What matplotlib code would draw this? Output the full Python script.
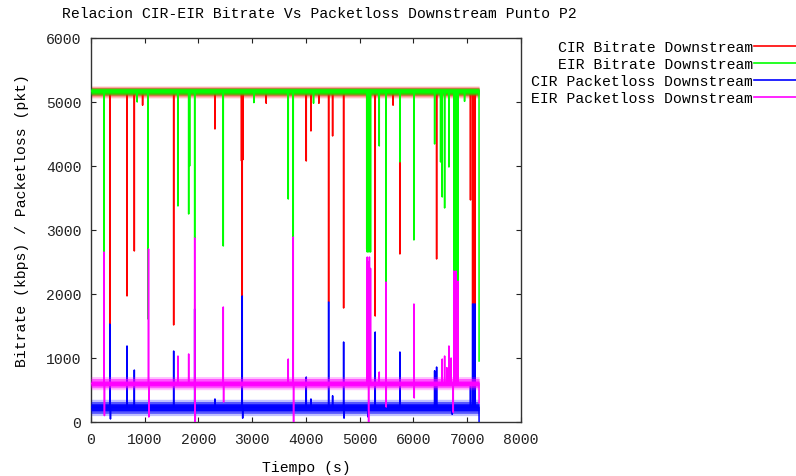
import numpy as np
import matplotlib
matplotlib.use("Agg")
import matplotlib.pyplot as plt
from matplotlib.lines import Line2D

plt.rcParams["font.family"] = ["Liberation Mono", "DejaVu Sans Mono"]
plt.rcParams["path.simplify"] = False

# ---------------------------------------------------------------- data
title = "Relacion CIR-EIR Bitrate Vs Packetloss Downstream Punto P2"
series_names = [
    "CIR Bitrate Downstream",
    "EIR Bitrate Downstream",
    "CIR Packetloss Downstream",
    "EIR Packetloss Downstream",
]
series_colors = ["#ff0000", "#00ff00", "#0000ff", "#ff00ff"]

t_end = 7220  # last sample (s)

# steady level of each series and the spread of its fluctuation band
levels = [5160, 5170, 230, 600]
band_outer = [(5065, 5250), (5100, 5225), (100, 355), (505, 710)]
band_mid = [(5095, 5230), (5120, 5215), (135, 320), (535, 680)]
band_inner = [(5125, 5200), (5140, 5205), (175, 285), (565, 640)]

# (time s, value) excursions away from the steady level
cir_bitrate_events = [
    (350, 1016), (670, 1969), (806, 2672), (960, 4950), (1538, 1516),
    (2306, 4578), (2800, 4080), (2814, 1969), (2828, 4100), (3260, 4980),
    (4005, 4078), (4092, 4547), (4240, 4980), (4421, 1875), (4495, 4469),
    (4700, 1781), (5130, 2700), (5288, 1656), (5620, 4950), (5747, 2625),
    (6430, 2547), (7060, 3469), (7100, 1844), (7112, 2900), (7124, 1766),
    (7136, 2700), (7148, 1844),
]
eir_bitrate_events = [
    (242, 2078), (860, 5000), (1060, 1609), (1618, 3375), (1817, 3250),
    (1835, 4000), (1929, 2875), (2461, 2750), (3030, 4990), (3670, 3484),
    (3763, 2890), (4140, 4980), (5140, 2656), (5155, 2700), (5170, 2656),
    (5185, 2700), (5200, 2656), (5363, 4313), (5487, 2187), (5747, 4063),
    (6008, 2844), (6393, 4344), (6504, 4063), (6535, 3516), (6579, 3344),
    (6659, 3984), (6750, 1766), (6770, 2000), (6790, 1766), (6810, 2300),
    (6830, 1766), (6950, 5010), (7220, 953),
]
cir_loss_events = [
    (350, 1531), (362, 47), (670, 1188), (806, 812), (1538, 1109),
    (1929, 1766), (1940, 20), (2306, 360), (2814, 1969), (2822, 60),
    (4005, 703), (4092, 360), (4421, 1875), (4495, 410), (4700, 1250),
    (4708, 60), (5150, 80), (5288, 1406), (5747, 1094), (6393, 800),
    (6430, 859), (6720, 120), (7060, 560), (7100, 1844), (7112, 1300),
    (7124, 1844), (7136, 1000), (7148, 1844), (7220, 0),
]
eir_loss_events = [
    (242, 2656), (250, 100), (1070, 2703), (1076, 78), (1618, 1031),
    (1817, 1063), (1929, 2875), (1936, 0), (2461, 1797), (2467, 312),
    (3670, 984), (3763, 2890), (3769, 0), (5140, 2578), (5160, 2500),
    (5165, 0), (5180, 2578), (5200, 2400), (5363, 781), (5487, 2187),
    (5493, 234), (6008, 1844), (6014, 375), (6535, 984), (6579, 1031),
    (6620, 850), (6659, 1188), (6700, 1000), (6740, 150), (6750, 2359),
    (6770, 2100), (6790, 2359), (6810, 2000), (6830, 2200), (7220, 300),
]
all_events = [cir_bitrate_events, eir_bitrate_events,
              cir_loss_events, eir_loss_events]

x_ticks = list(range(0, 8001, 1000))
y_ticks = list(range(0, 6001, 1000))

# ---------------------------------------------------------------- figure
fig = plt.figure(figsize=(7.96, 4.77), dpi=100)
W, H = 796, 477
ax = fig.add_axes([91 / W, 54 / H, 430 / W, 384 / H])

t = np.arange(0, t_end + 1)
for k, (events, color) in enumerate(zip(all_events, series_colors)):
    y = np.full(t.shape, float(levels[k]))
    for ts, val in events:
        y[ts] = val
    z = 2 + k
    ax.fill_between(t, *band_outer[k], color=color, alpha=0.25, lw=0, zorder=z)
    ax.fill_between(t, *band_mid[k], color=color, alpha=0.55, lw=0, zorder=z)
    ax.fill_between(t, *band_inner[k], color=color, alpha=0.95, lw=0, zorder=z)
    ax.plot(t, y, color=color, lw=1.1, zorder=z)

ax.set_xlim(0, 8000)
ax.set_ylim(0, 6000)
ax.set_xticks(x_ticks)
ax.set_yticks(y_ticks)
ax.tick_params(direction="in", length=3.6, width=0.8, top=True, right=True,
               labelsize=10.6, pad=7, colors="#222222")
for sp in ax.spines.values():
    sp.set_linewidth(1.0)
    sp.set_color("#333333")

ax.set_xlabel("Tiempo (s)", fontsize=10.6, labelpad=10)
fig.text(22 / W, 1 - 221 / H, "Bitrate (kbps) / Packetloss (pkt)",
         rotation=90, ha="center", va="center", fontsize=10.6)
fig.text(319 / W, 1 - 14 / H, title, ha="center", va="center", fontsize=10.6)

# key at the upper right, text right-aligned before each line sample
for i, (name, color) in enumerate(zip(series_names, series_colors)):
    yp = 47 + 17 * i
    fig.text(753 / W, 1 - (yp + 1) / H, name, ha="right", va="center",
             fontsize=10.6)
    fig.add_artist(Line2D([754 / W, 1.0], [1 - yp / H] * 2, color=color,
                          lw=1.2, transform=fig.transFigure))

fig.savefig("out.png", dpi=100)
